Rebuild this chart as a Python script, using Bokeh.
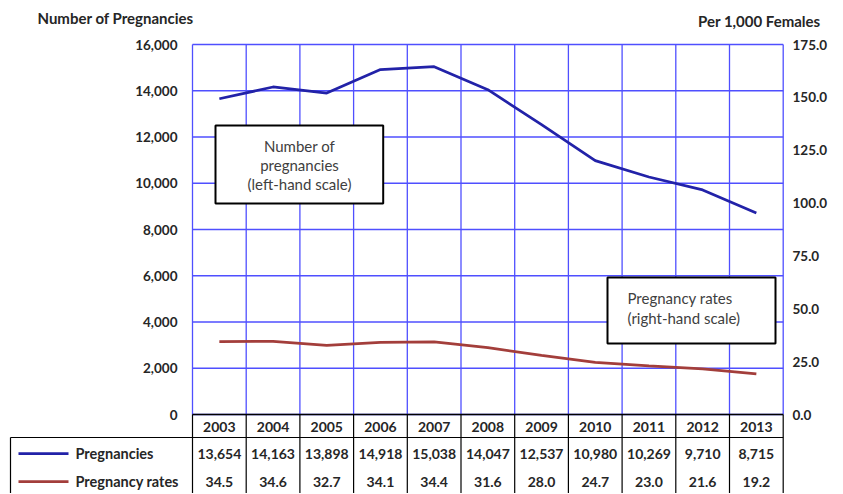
from bokeh.plotting import figure
from bokeh.models import Range1d, ColumnDataSource
from bokeh.embed import file_html
from bokeh.resources import INLINE
from bokeh.core.properties import value

# ---------------- data ----------------
years = ["2003", "2004", "2005", "2006", "2007", "2008", "2009", "2010", "2011", "2012", "2013"]
pregnancies = [13654, 14163, 13898, 14918, 15038, 14047, 12537, 10980, 10269, 9710, 8715]
rates = [34.5, 34.6, 32.7, 34.1, 34.4, 31.6, 28.0, 24.7, 23.0, 21.6, 19.2]
left_ticks = [0, 2000, 4000, 6000, 8000, 10000, 12000, 14000, 16000]
right_ticks = [0, 25, 50, 75, 100, 125, 150, 175]
series_names = ["Pregnancies", "Pregnancy rates"]
left_title = "Number of Pregnancies"
right_title = "Per 1,000 Females"
box_left_lines = ["Number of", "pregnancies", "(left-hand scale)"]
box_right_lines = ["Pregnancy rates", "(right-hand scale)"]

# ---------------- style / geometry ----------------
FONT = value("Lato")
BOLD = value("bold")
TXT = "#262626"
BOXTXT = "#404040"
GRID = "#4F4FFF"
C_PREG = "#2222A8"
C_RATE = "#A33E3B"

W, H = 842, 493
OFF = 0  # canvas sits at the page origin


def fx(rx):
    return rx - OFF


def fy(ry):
    return ry - OFF


n = len(years)
idx = list(range(n))
bounds = [i - 0.5 for i in range(n + 1)]
PL, PR = fx(192), fx(782.7)
PT, PB = fy(44), fy(414)
PX = (PR - PL) / n
YMAX = left_ticks[-1]
RMAX = right_ticks[-1]


def xd(px):
    return -0.5 + (px - PL) / PX


k_preg = YMAX / (PB - PT)
k_rate = RMAX / (PB - PT)

p = figure(width=W, height=H, x_range=Range1d(xd(0), xd(W)), y_range=Range1d(H, 0),
           x_axis_type=None, y_axis_type=None, min_border=0,
           output_backend="svg", toolbar_location=None)
p.outline_line_color = None
p.extra_y_ranges = {
    "preg": Range1d(-(H - PB) * k_preg, YMAX + PT * k_preg),
    "rate": Range1d(-(H - PB) * k_rate, RMAX + PT * k_rate),
}

# ---------------- grid ----------------
p.segment(x0=bounds, y0=[0] * len(bounds), x1=bounds, y1=[YMAX] * len(bounds),
          y_range_name="preg", line_color=GRID, line_width=1.3)
p.segment(x0=[bounds[0]] * len(left_ticks), y0=left_ticks, x1=[bounds[-1]] * len(left_ticks),
          y1=left_ticks, y_range_name="preg", line_color=GRID, line_width=1.3)
# category axis line
p.segment(x0=[bounds[0]], y0=[0], x1=[bounds[-1]], y1=[0], y_range_name="preg",
          line_color="black", line_width=1.3)

# ---------------- axes labels ----------------
p.text(x=[xd(fx(177))] * len(left_ticks), y=left_ticks, text=[f"{v:,}" for v in left_ticks],
       y_range_name="preg", text_font=FONT, text_font_size="13.5px", text_font_style=BOLD,
       text_color=TXT, text_align="right", text_baseline="middle")
p.text(x=[xd(fx(792))] * len(right_ticks), y=right_ticks, text=[f"{v:.1f}" for v in right_ticks],
       y_range_name="rate", text_font=FONT, text_font_size="13.5px", text_font_style=BOLD,
       text_color=TXT, text_align="left", text_baseline="middle")
p.text(x=[xd(fx(37))], y=[fy(17)], text=[left_title], text_font=FONT, text_font_size="15px",
       text_font_style=BOLD, text_color=TXT, text_align="left", text_baseline="alphabetic")
p.text(x=[xd(fx(820))], y=[fy(20)], text=[right_title], text_font=FONT, text_font_size="15px",
       text_font_style=BOLD, text_color=TXT, text_align="right", text_baseline="alphabetic")

# ---------------- series ----------------
src = ColumnDataSource(dict(x=idx, preg=pregnancies, rate=rates))
p.line("x", "preg", source=src, y_range_name="preg", line_color=C_PREG, line_width=2.75)
p.line("x", "rate", source=src, y_range_name="rate", line_color=C_RATE, line_width=2.75)

# ---------------- annotation boxes ----------------
p.quad(left=[xd(fx(215))], right=[xd(fx(382.7))], top=[fy(125)], bottom=[fy(203)],
       fill_color="white", line_color="black", line_width=2)
p.text(x=[xd(fx(299))] * 3, y=[fy(145), fy(164), fy(183)], text=box_left_lines,
       text_font=FONT, text_font_size="15px", text_color=BOXTXT,
       text_align="center", text_baseline="middle")
p.quad(left=[xd(fx(607))], right=[xd(fx(775))], top=[fy(277)], bottom=[fy(343)],
       fill_color="white", line_color="black", line_width=2)
p.text(x=[xd(fx(627))] * 2, y=[fy(297), fy(317)], text=box_right_lines,
       text_font=FONT, text_font_size="15px", text_color=BOXTXT,
       text_align="left", text_baseline="middle")

# ---------------- data table ----------------
TL = xd(fx(10))
ROW_TOP = fy(437)
p.segment(x0=bounds, y0=[PB] * len(bounds), x1=bounds, y1=[H] * len(bounds),
          line_color="black", line_width=1.2)
p.segment(x0=[TL], y0=[ROW_TOP], x1=[bounds[-1]], y1=[ROW_TOP], line_color="black", line_width=1.2)
p.segment(x0=[TL], y0=[ROW_TOP], x1=[TL], y1=[H], line_color="black", line_width=1.2)

row_y = [fy(453), fy(481)]
p.text(x=idx, y=[fy(426)] * n, text=years, text_font=FONT, text_font_size="14px",
       text_font_style=BOLD, text_color=TXT, text_align="center", text_baseline="middle")
p.segment(x0=[xd(fx(18))] * 2, y0=row_y, x1=[xd(fx(68))] * 2, y1=row_y,
          line_color=[C_PREG, C_RATE], line_width=2.75)
p.text(x=[xd(fx(75))] * 2, y=row_y, text=series_names, text_font=FONT, text_font_size="14.5px",
       text_font_style=BOLD, text_color=TXT, text_align="left", text_baseline="middle")
p.text(x=idx, y=[row_y[0]] * n, text=[f"{v:,}" for v in pregnancies], text_font=FONT,
       text_font_size="14px", text_font_style=BOLD, text_color=TXT,
       text_align="center", text_baseline="middle")
p.text(x=idx, y=[row_y[1]] * n, text=[f"{v:.1f}" for v in rates], text_font=FONT,
       text_font_size="14px", text_font_style=BOLD, text_color=TXT,
       text_align="center", text_baseline="middle")

open("out.html", "w").write(file_html(p, INLINE))
